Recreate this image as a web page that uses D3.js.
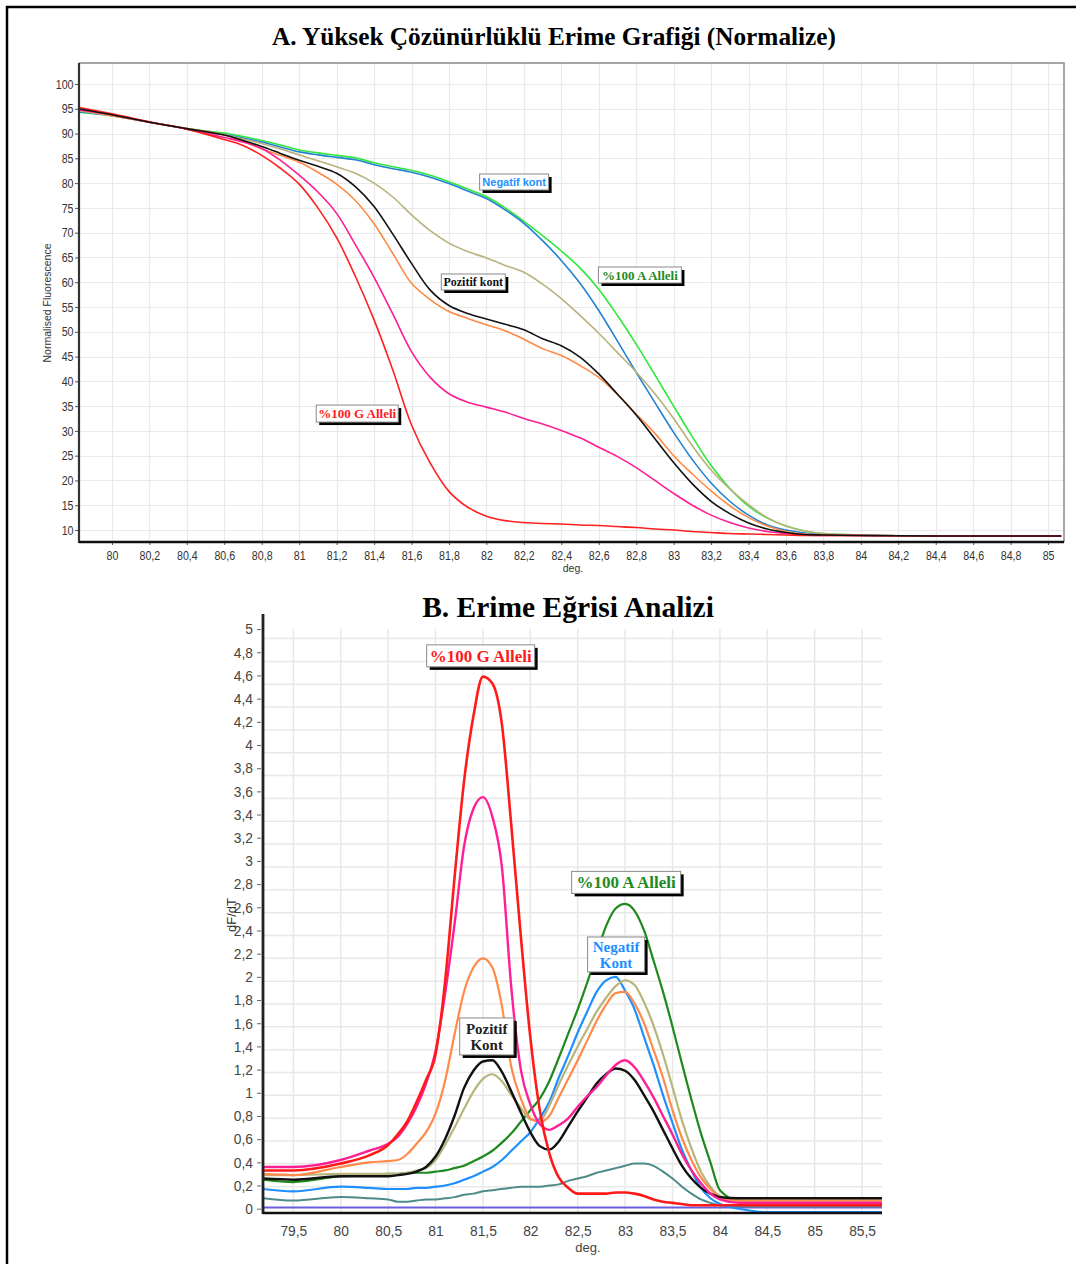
<!DOCTYPE html>
<html><head><meta charset="utf-8">
<script src="https://cdn.jsdelivr.net/npm/d3@7"></script>
<style>body{margin:0;background:#fff}svg{display:block}</style>
</head><body>
<svg id="c" width="1076" height="1264"></svg>
<script>
// ---------- Chart A data (normalised fluorescence) ----------
const topTemps = [79.82,80.0,80.2,80.4,80.6,80.7,80.8,80.9,81.0,81.1,81.2,81.3,81.4,81.5,81.6,81.7,81.8,81.9,82.0,82.1,82.2,82.3,82.4,82.5,82.6,82.7,82.8,82.9,83.0,83.1,83.2,83.3,83.4,83.5,83.6,83.7,83.8,84.0,84.4,85.07];
const topGreen  = [94.3,93.6,92.3,91.0,90.1,89.4,88.6,87.7,86.7,86.1,85.6,85.1,84.1,83.3,82.6,81.6,80.3,78.8,77.3,75.0,72.3,69.4,66.3,62.9,58.6,53.3,47.5,41.3,35.0,28.8,23.0,18.4,14.8,12.4,10.8,9.8,9.3,9.0,8.8,8.8];
const topBlue   = [94.4,93.6,92.3,91.0,89.8,89.1,88.3,87.3,86.3,85.7,85.2,84.7,83.7,82.9,82.2,81.2,79.9,78.4,76.9,74.6,71.9,68.4,64.4,59.8,54.3,48.1,41.8,35.7,29.7,24.2,19.5,15.8,13.0,11.0,10.0,9.4,9.1,8.9,8.8,8.8];
const topKhaki  = [94.6,93.6,92.3,91.0,89.7,88.9,88.0,86.9,85.7,84.5,83.3,82.0,80.0,77.2,73.6,70.4,67.9,66.2,64.9,63.4,62.0,59.6,56.7,53.3,49.7,45.8,41.9,37.5,32.5,27.0,22.1,18.3,15.1,12.5,10.8,9.8,9.3,9.0,8.8,8.8];
const topOrange = [94.8,93.6,92.3,91.0,89.7,88.4,86.9,85.6,84.2,82.2,79.8,76.5,71.8,65.8,59.8,56.5,54.1,52.7,51.4,50.2,48.5,46.6,45.2,43.2,40.8,37.4,33.4,29.5,25.0,21.3,17.9,14.9,12.5,10.8,9.7,9.2,9.0,8.9,8.8,8.8];
const topBlack  = [95.0,93.8,92.3,91.0,89.7,88.6,87.4,86.0,84.6,83.4,82.0,79.3,75.3,69.7,63.8,58.4,55.3,53.7,52.6,51.5,50.4,48.6,47.2,44.9,41.5,37.4,33.2,28.4,23.6,19.3,15.8,13.3,11.4,10.2,9.5,9.1,9.0,8.9,8.8,8.8];
const topPink   = [94.8,93.8,92.3,90.9,89.2,88.3,87.0,84.6,81.6,78.2,73.9,67.6,61.0,53.6,46.0,40.8,37.5,35.8,34.8,33.8,32.5,31.4,30.1,28.6,26.7,24.8,22.6,20.0,17.4,15.0,13.0,11.5,10.4,9.7,9.3,9.0,8.9,8.9,8.8,8.8];
const topRed    = [95.3,94.0,92.4,90.9,88.8,87.6,85.6,83.0,79.8,75.0,69.0,61.2,52.4,42.3,31.2,23.5,17.8,14.6,12.8,11.9,11.5,11.3,11.2,11.0,10.9,10.7,10.5,10.2,10.0,9.7,9.5,9.3,9.2,9.1,9.0,8.9,8.9,8.9,8.8,8.8];
const topXTicks = [80,80.2,80.4,80.6,80.8,81,81.2,81.4,81.6,81.8,82,82.2,82.4,82.6,82.8,83,83.2,83.4,83.6,83.8,84,84.2,84.4,84.6,84.8,85];
const topYTicks = [10,15,20,25,30,35,40,45,50,55,60,65,70,75,80,85,90,95,100];

// ---------- Chart B data (-dF/dT) ----------
const bTemps  = [79.18,79.5,80.0,80.3,80.5,80.6,80.7,80.8,80.9,81.0,81.1,81.2,81.3,81.4,81.5,81.6,81.7,81.8,81.9,82.0,82.1,82.2,82.3,82.4,82.5,82.6,82.7,82.8,82.9,83.0,83.1,83.2,83.3,83.4,83.5,83.6,83.7,83.8,83.9,84.0,84.2,84.5,85.71];
const bTeal   = [0.09,0.07,0.10,0.09,0.08,0.06,0.06,0.07,0.08,0.08,0.09,0.10,0.12,0.13,0.15,0.16,0.17,0.18,0.19,0.19,0.19,0.20,0.21,0.24,0.26,0.28,0.31,0.33,0.35,0.37,0.39,0.39,0.37,0.32,0.26,0.19,0.13,0.08,0.05,0.03,0.02,0.02,0.02];
const bGreen  = [0.25,0.23,0.28,0.29,0.30,0.30,0.31,0.31,0.31,0.32,0.33,0.35,0.37,0.41,0.45,0.50,0.57,0.65,0.75,0.85,0.95,1.10,1.30,1.51,1.72,1.95,2.20,2.44,2.59,2.63,2.57,2.40,2.14,1.87,1.57,1.25,0.94,0.65,0.40,0.16,0.07,0.06,0.06];
const bBlue   = [0.17,0.15,0.19,0.18,0.17,0.17,0.17,0.18,0.18,0.19,0.20,0.22,0.25,0.28,0.32,0.36,0.42,0.50,0.58,0.66,0.78,0.92,1.13,1.32,1.52,1.70,1.87,1.97,2.00,1.88,1.72,1.48,1.24,0.98,0.74,0.51,0.33,0.18,0.09,0.04,0.0,-0.03,-0.03];
const bKhaki  = [0.29,0.29,0.30,0.30,0.30,0.30,0.31,0.33,0.35,0.42,0.55,0.70,0.86,1.01,1.12,1.16,1.10,0.98,0.87,0.77,0.76,0.89,1.07,1.24,1.40,1.55,1.70,1.82,1.92,1.97,1.93,1.78,1.58,1.33,1.05,0.76,0.52,0.32,0.19,0.11,0.07,0.07,0.07];
const bOrange = [0.30,0.29,0.36,0.40,0.41,0.42,0.47,0.56,0.66,0.82,1.10,1.50,1.87,2.08,2.16,2.08,1.75,1.22,0.95,0.78,0.75,0.80,0.96,1.12,1.28,1.45,1.62,1.76,1.86,1.87,1.77,1.60,1.37,1.13,0.85,0.61,0.42,0.27,0.17,0.10,0.07,0.07,0.07];
const bBlack  = [0.26,0.25,0.28,0.28,0.28,0.29,0.30,0.32,0.36,0.45,0.60,0.80,1.04,1.19,1.27,1.28,1.18,1.01,0.83,0.66,0.54,0.51,0.58,0.71,0.84,0.96,1.08,1.16,1.21,1.19,1.11,0.98,0.84,0.68,0.52,0.37,0.26,0.18,0.13,0.10,0.09,0.09,0.09];
const bPink   = [0.36,0.36,0.42,0.50,0.56,0.62,0.73,0.88,1.08,1.36,1.85,2.45,3.12,3.45,3.55,3.38,2.95,1.90,1.20,0.90,0.73,0.68,0.72,0.78,0.88,0.97,1.05,1.15,1.24,1.28,1.22,1.10,0.96,0.80,0.64,0.47,0.33,0.22,0.13,0.08,0.05,0.05,0.05];
const bRed    = [0.33,0.33,0.39,0.46,0.55,0.64,0.75,0.92,1.11,1.33,1.95,2.85,3.68,4.25,4.59,4.53,4.18,3.30,2.35,1.48,0.85,0.48,0.27,0.18,0.13,0.13,0.13,0.13,0.14,0.14,0.13,0.11,0.08,0.06,0.05,0.04,0.03,0.03,0.03,0.03,0.03,0.03,0.03];
const bPurpleTemps = [79.18,85.71];
const bPurple = [0.01,0.01];
const bXTicks = [79.5,80,80.5,81,81.5,82,82.5,83,83.5,84,84.5,85,85.5];
const bYTicks = [0,0.2,0.4,0.6,0.8,1,1.2,1.4,1.6,1.8,2,2.2,2.4,2.6,2.8,3,3.2,3.4,3.6,3.8,4,4.2,4.4,4.6,4.8,5];
const bGridY = d3.range(0.19, 4.95, 0.197);

// ---------- labels ----------
const topLabels = [
  {t:82.148, v:80.23, w:69, h:16, lines:["Negatif kont"], color:"#1e8fff", font:"'Liberation Sans',Arial,sans-serif", size:11},
  {t:82.82,  v:61.46, w:83, h:16, lines:["%100 A Alleli"], color:"#1f8a1f", font:"'Liberation Serif','Times New Roman',serif", size:13},
  {t:81.93,  v:60.05, w:64, h:16, lines:["Pozitif kont"], color:"#111", font:"'Liberation Serif','Times New Roman',serif", size:12},
  {t:81.31,  v:33.5,  w:82, h:17, lines:["%100 G Alleli"], color:"#ff1a1a", font:"'Liberation Serif','Times New Roman',serif", size:13}
];
const bLabels = [
  {t:81.476, v:4.769, w:108, h:22, lines:["%100 G Alleli"], color:"#ff1a1a", size:17},
  {t:83.011, v:2.815, w:109, h:22, lines:["%100 A Alleli"], color:"#1f8a1f", size:17},
  {t:82.905, v:2.193, w:57,  h:35, lines:["Negatif","Kont"], color:"#1e8fff", size:15},
  {t:81.54,  v:1.486, w:54,  h:37, lines:["Pozitif","Kont"], color:"#222", size:15}
];

const svg = d3.select("#c");
const loc = d3.formatLocale({decimal:",", thousands:".", grouping:[3], currency:["",""]});
const fmt = loc.format("~g");
const SANS = "'Liberation Sans',Arial,sans-serif";
const SERIF = "'Liberation Serif','Times New Roman',serif";

// outer frame
svg.append("rect").attr("x",7).attr("y",7).attr("width",1090).attr("height",1280)
  .attr("fill","none").attr("stroke","#000").attr("stroke-width",2.5);

// ================= Chart A =================
const xA = d3.scaleLinear().domain([79.824, 85.085]).range([79, 1064]);
const yA = d3.scaleLinear().domain([7.58, 104.24]).range([542, 63]);
const gA = svg.append("g");

svg.append("text").attr("x",554).attr("y",45).attr("text-anchor","middle")
  .attr("font-family",SERIF).attr("font-weight","bold").attr("font-size",25.3).attr("fill","#000")
  .text("A. Yüksek Çözünürlüklü Erime Grafiği (Normalize)");

gA.append("g").selectAll("line").data(topXTicks).join("line")
  .attr("x1",d=>Math.round(xA(d))+0.5).attr("x2",d=>Math.round(xA(d))+0.5)
  .attr("y1",yA.range()[1]).attr("y2",yA.range()[0]).attr("stroke","#e9e9e9").attr("stroke-width",1.2);
gA.append("g").selectAll("line").data(topYTicks).join("line")
  .attr("y1",d=>Math.round(yA(d))+0.5).attr("y2",d=>Math.round(yA(d))+0.5)
  .attr("x1",xA.range()[0]).attr("x2",xA.range()[1]).attr("stroke","#e9e9e9").attr("stroke-width",1.2);
gA.append("path").attr("d",`M${xA.range()[0]},${yA.range()[1]}H${xA.range()[1]}V${yA.range()[0]}`)
  .attr("fill","none").attr("stroke","#8a8a8a").attr("stroke-width",1.5);

const ySx = 0.82;
const axAy = gA.append("g").attr("transform",`translate(${xA.range()[0]},0)`)
  .call(d3.axisLeft(yA).tickValues(topYTicks).tickSize(4).tickFormat(fmt));
axAy.select(".domain").remove();
axAy.selectAll(".tick line").attr("stroke","#555");
axAy.selectAll(".tick text").attr("font-family",SANS).attr("font-size",13).attr("fill","#333")
  .attr("transform",`scale(${ySx},1)`).attr("x",-5.5/ySx);
const axAx = gA.append("g").attr("transform",`translate(0,${yA.range()[0]})`)
  .call(d3.axisBottom(xA).tickValues(topXTicks).tickSize(3).tickFormat(fmt));
axAx.select(".domain").remove();
axAx.selectAll(".tick line").attr("stroke","#555");
axAx.selectAll(".tick text").attr("font-family",SANS).attr("font-size",13).attr("fill","#333")
  .attr("transform",`scale(${ySx},1)`).attr("y",9);

gA.append("text").attr("transform","translate(51,303) rotate(-90)").attr("text-anchor","middle")
  .attr("font-family",SANS).attr("font-size",10.5).attr("fill","#333").text("Normalised Fluorescence");
gA.append("text").attr("x",573).attr("y",572).attr("text-anchor","middle")
  .attr("font-family",SANS).attr("font-size",10.5).attr("fill","#333").text("deg.");

const lineA = d3.line().x(d=>xA(d[0])).y(d=>yA(d[1])).curve(d3.curveCatmullRom.alpha(0.5));
const topSeries = [
  {v:topGreen, c:"#2ee83a"}, {v:topBlue, c:"#2382d0"}, {v:topKhaki, c:"#b9b27c"},
  {v:topOrange, c:"#ff8a45"}, {v:topPink, c:"#ff1c94"}, {v:topRed, c:"#ff1f1f"}, {v:topBlack, c:"#111111"}
];
gA.append("g").selectAll("path").data(topSeries).join("path")
  .attr("d",s=>lineA(topTemps.map((t,i)=>[t,s.v[i]])))
  .attr("fill","none").attr("stroke",s=>s.c).attr("stroke-width",1.6);

gA.append("line").attr("x1",xA.range()[0]).attr("x2",xA.range()[0]).attr("y1",yA.range()[1]).attr("y2",yA.range()[0]+1)
  .attr("stroke","#333").attr("stroke-width",2.2);
gA.append("line").attr("x1",xA.range()[0]).attr("x2",xA.range()[1]).attr("y1",yA.range()[0]).attr("y2",yA.range()[0])
  .attr("stroke","#111").attr("stroke-width",2.5);

function drawBox(g, cx, cy, d, font) {
  const x0 = cx - d.w/2, y0 = cy - d.h/2;
  g.append("rect").attr("x",x0+3).attr("y",y0+3).attr("width",d.w).attr("height",d.h).attr("fill","#000");
  g.append("rect").attr("x",x0).attr("y",y0).attr("width",d.w).attr("height",d.h)
    .attr("fill","#fff").attr("stroke","#8a8a8a").attr("stroke-width",1);
  const n = d.lines.length, lh = d.size*1.05;
  d.lines.forEach((s,i)=>{
    g.append("text").attr("x",cx).attr("y",cy + (i-(n-1)/2)*lh).attr("dy","0.35em")
      .attr("text-anchor","middle").attr("font-family",font).attr("font-weight","bold")
      .attr("font-size",d.size).attr("fill",d.color).text(s);
  });
}
topLabels.forEach(d=>drawBox(gA, xA(d.t), yA(d.v), d, d.font));

// ================= Chart B =================
const xB = d3.scaleLinear().domain([79.18, 85.71]).range([263, 882]);
const yB = d3.scaleLinear().domain([-0.037, 5.13]).range([1213, 614]);
const gB = svg.append("g");

svg.append("text").attr("x",568).attr("y",617).attr("text-anchor","middle")
  .attr("font-family",SERIF).attr("font-weight","bold").attr("font-size",29.5).attr("fill","#000")
  .text("B. Erime Eğrisi Analizi");

gB.append("g").selectAll("line").data(bXTicks).join("line")
  .attr("x1",d=>xB(d)).attr("x2",d=>xB(d)).attr("y1",yB(5)).attr("y2",yB.range()[0])
  .attr("stroke","#e8e8e8").attr("stroke-width",1.5);
gB.append("g").selectAll("line").data(bGridY).join("line")
  .attr("y1",d=>yB(d)).attr("y2",d=>yB(d)).attr("x1",xB.range()[0]).attr("x2",xB.range()[1])
  .attr("stroke","#e8e8e8").attr("stroke-width",1.5);

const bSx = 0.92;
const axBy = gB.append("g").attr("transform",`translate(${xB.range()[0]},0)`)
  .call(d3.axisLeft(yB).tickValues(bYTicks).tickSize(4).tickFormat(fmt));
axBy.select(".domain").remove();
axBy.selectAll(".tick line").attr("stroke","#666").attr("transform","translate(-2,0)");
axBy.selectAll(".tick text").attr("font-family",SANS).attr("font-size",15).attr("fill","#444")
  .attr("transform",`scale(${bSx},1)`).attr("x",-10/bSx);
const axBx = gB.append("g").attr("transform",`translate(0,${yB.range()[0]})`)
  .call(d3.axisBottom(xB).tickValues(bXTicks).tickSize(0).tickFormat(fmt));
axBx.select(".domain").remove();
axBx.selectAll(".tick text").attr("font-family",SANS).attr("font-size",15).attr("fill","#444")
  .attr("transform",`scale(${bSx},1)`).attr("y",12.3);

gB.append("text").attr("transform","translate(236,915) rotate(-90)").attr("text-anchor","middle")
  .attr("font-family",SANS).attr("font-size",13).attr("fill","#333").text("dF/dT");
gB.append("text").attr("x",588).attr("y",1252).attr("text-anchor","middle")
  .attr("font-family",SANS).attr("font-size",13).attr("fill","#444").text("deg.");

const lineB = d3.line().x(d=>xB(d[0])).y(d=>yB(d[1])).curve(d3.curveMonotoneX);
gB.append("path").attr("d",lineB(bPurpleTemps.map((t,i)=>[t,bPurple[i]])))
  .attr("fill","none").attr("stroke","#6a5ee0").attr("stroke-width",2);
const bSeries = [
  {v:bTeal, c:"#4e8a8a", w:2}, {v:bGreen, c:"#1d8a1d", w:2.2}, {v:bBlue, c:"#1e8fff", w:2.2},
  {v:bKhaki, c:"#b7b47c", w:2.2}, {v:bOrange, c:"#ff8a4a", w:2.2}, {v:bBlack, c:"#111111", w:2.4},
  {v:bPink, c:"#ff1f95", w:2.4}, {v:bRed, c:"#ff1a1a", w:2.6}
];
gB.append("g").selectAll("path").data(bSeries).join("path")
  .attr("d",s=>lineB(bTemps.map((t,i)=>[t,s.v[i]])))
  .attr("fill","none").attr("stroke",s=>s.c).attr("stroke-width",s=>s.w);

gB.append("line").attr("x1",xB.range()[0]).attr("x2",xB.range()[0]).attr("y1",yB.range()[1]).attr("y2",yB.range()[0]+1)
  .attr("stroke","#222").attr("stroke-width",2.8);
gB.append("line").attr("x1",xB.range()[0]).attr("x2",xB.range()[1]).attr("y1",yB.range()[0]).attr("y2",yB.range()[0])
  .attr("stroke","#111").attr("stroke-width",2.6);

bLabels.forEach(d=>drawBox(gB, xB(d.t), yB(d.v), d, SERIF));
</script>
</body></html>
